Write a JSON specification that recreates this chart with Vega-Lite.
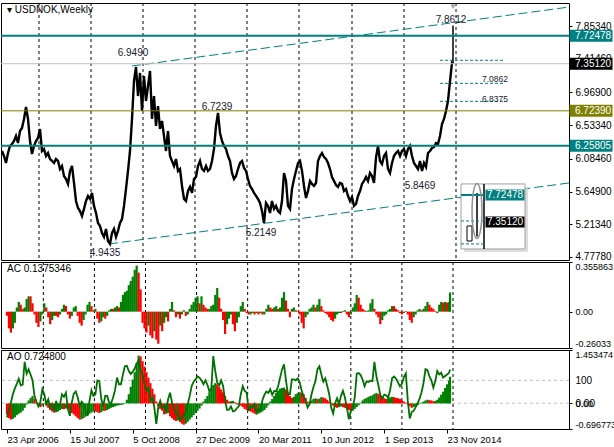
{
"$schema": "https://vega.github.io/schema/vega-lite/v6.json",
"background": "#ffffff",
"padding": {"left": -4, "top": 2, "right": 0, "bottom": 0},
"spacing": 2,
"bounds": "flush",
"resolve": {"scale": {"color": "independent"}, "legend": {"color": "independent"}},
"config": {
  "view": {"stroke": "#000000", "strokeWidth": 1},
  "font": "Liberation Sans",
  "axis": {"labelFont": "Liberation Sans", "labelFontSize": 10, "labelColor": "#000000", "tickColor": "#000000", "tickSize": 3, "labelPadding": 3, "domain": false, "grid": false, "labelOverlap": false, "labelBound": false},
  "title": {"anchor": "start", "frame": "group", "fontSize": 10, "fontWeight": "normal", "font": "Liberation Sans", "color": "#000000", "baseline": "alphabetic", "offset": -12, "dx": 6}
},
"datasets": {
  "yr": [{"t":"2007-01-07"},{"t":"2008-01-06"},{"t":"2009-01-04"},{"t":"2010-01-03"},{"t":"2011-01-02"},{"t":"2012-01-01"},{"t":"2013-01-06"},{"t":"2014-01-05"},{"t":"2015-01-04"}],
  "wk": [
{"t":"2006-04-23","p":6.189,"ac":-0.03,"acd":"d","ao":-0.30,"aod":"d","osc":-62},
{"t":"2006-05-07","p":6.122,"ac":-0.12,"acd":"d","ao":-0.40,"aod":"d","osc":-26},
{"t":"2006-05-21","p":6.029,"ac":-0.15,"acd":"d","ao":-0.44,"aod":"d","osc":3},
{"t":"2006-06-04","p":6.162,"ac":-0.12,"acd":"u","ao":-0.42,"aod":"u","osc":39},
{"t":"2006-06-18","p":6.256,"ac":-0.08,"acd":"u","ao":-0.38,"aod":"u","osc":65},
{"t":"2006-07-02","p":6.282,"ac":0.03,"acd":"u","ao":-0.32,"aod":"u","osc":85},
{"t":"2006-07-16","p":6.322,"ac":0.07,"acd":"u","ao":-0.28,"aod":"u","osc":107},
{"t":"2006-07-30","p":6.389,"ac":0.05,"acd":"d","ao":-0.25,"aod":"u","osc":78},
{"t":"2006-08-13","p":6.295,"ac":0.02,"acd":"d","ao":-0.20,"aod":"u","osc":81},
{"t":"2006-08-27","p":6.455,"ac":0.03,"acd":"u","ao":-0.12,"aod":"u","osc":181},
{"t":"2006-09-10","p":6.495,"ac":0.09,"acd":"u","ao":-0.03,"aod":"u","osc":129},
{"t":"2006-09-24","p":6.615,"ac":0.11,"acd":"u","ao":0.08,"aod":"u","osc":148},
{"t":"2006-10-08","p":6.775,"ac":0.11,"acd":"d","ao":0.15,"aod":"u","osc":126},
{"t":"2006-10-22","p":6.615,"ac":0.06,"acd":"d","ao":0.20,"aod":"u","osc":100},
{"t":"2006-11-05","p":6.322,"ac":-0.02,"acd":"d","ao":0.12,"aod":"d","osc":32},
{"t":"2006-11-19","p":6.149,"ac":-0.08,"acd":"d","ao":0.02,"aod":"d","osc":6},
{"t":"2006-12-03","p":6.256,"ac":-0.11,"acd":"d","ao":-0.06,"aod":"d","osc":-14},
{"t":"2006-12-17","p":6.322,"ac":-0.07,"acd":"u","ao":-0.10,"aod":"d","osc":6},
{"t":"2006-12-31","p":6.362,"ac":-0.02,"acd":"u","ao":-0.06,"aod":"u","osc":61},
{"t":"2007-01-14","p":6.482,"ac":0.06,"acd":"u","ao":-0.02,"aod":"u","osc":39},
{"t":"2007-01-28","p":6.189,"ac":0.03,"acd":"d","ao":-0.05,"aod":"d","osc":-4},
{"t":"2007-02-11","p":6.216,"ac":-0.04,"acd":"d","ao":-0.12,"aod":"d","osc":17},
{"t":"2007-02-25","p":6.122,"ac":-0.09,"acd":"d","ao":-0.18,"aod":"d","osc":-19},
{"t":"2007-03-11","p":6.162,"ac":-0.06,"acd":"u","ao":-0.22,"aod":"d","osc":-4},
{"t":"2007-03-25","p":6.082,"ac":-0.03,"acd":"u","ao":-0.25,"aod":"d","osc":-33},
{"t":"2007-04-08","p":6.056,"ac":-0.03,"acd":"d","ao":-0.24,"aod":"u","osc":10},
{"t":"2007-04-22","p":6.029,"ac":-0.04,"acd":"d","ao":-0.22,"aod":"u","osc":-19},
{"t":"2007-05-06","p":6.082,"ac":-0.02,"acd":"u","ao":-0.18,"aod":"u","osc":-4},
{"t":"2007-05-20","p":6.056,"ac":0.02,"acd":"u","ao":-0.15,"aod":"u","osc":39},
{"t":"2007-06-03","p":5.949,"ac":0.05,"acd":"u","ao":-0.16,"aod":"d","osc":28},
{"t":"2007-06-17","p":5.989,"ac":0.04,"acd":"d","ao":-0.14,"aod":"u","osc":46},
{"t":"2007-07-01","p":5.856,"ac":-0.02,"acd":"d","ao":-0.16,"aod":"d","osc":-26},
{"t":"2007-07-15","p":5.816,"ac":-0.05,"acd":"d","ao":-0.20,"aod":"d","osc":-55},
{"t":"2007-07-29","p":5.750,"ac":-0.03,"acd":"u","ao":-0.26,"aod":"d","osc":3},
{"t":"2007-08-12","p":5.923,"ac":0.03,"acd":"u","ao":-0.30,"aod":"d","osc":42},
{"t":"2007-08-26","p":5.989,"ac":0.04,"acd":"u","ao":-0.35,"aod":"d","osc":51},
{"t":"2007-09-09","p":5.763,"ac":-0.03,"acd":"d","ao":-0.40,"aod":"d","osc":25},
{"t":"2007-09-23","p":5.523,"ac":-0.08,"acd":"d","ao":-0.44,"aod":"d","osc":-12},
{"t":"2007-10-07","p":5.430,"ac":-0.10,"acd":"d","ao":-0.43,"aod":"u","osc":7},
{"t":"2007-10-21","p":5.390,"ac":-0.06,"acd":"u","ao":-0.40,"aod":"u","osc":-4},
{"t":"2007-11-04","p":5.323,"ac":-0.02,"acd":"u","ao":-0.36,"aod":"u","osc":-33},
{"t":"2007-11-18","p":5.417,"ac":0.05,"acd":"u","ao":-0.32,"aod":"u","osc":-55},
{"t":"2007-12-02","p":5.523,"ac":0.07,"acd":"u","ao":-0.28,"aod":"u","osc":10},
{"t":"2007-12-16","p":5.590,"ac":0.04,"acd":"d","ao":-0.25,"aod":"u","osc":57},
{"t":"2007-12-30","p":5.550,"ac":0.01,"acd":"d","ao":-0.22,"aod":"u","osc":32},
{"t":"2008-01-13","p":5.630,"ac":0.02,"acd":"u","ao":-0.22,"aod":"d","osc":39},
{"t":"2008-01-27","p":5.457,"ac":-0.05,"acd":"d","ao":-0.24,"aod":"d","osc":100},
{"t":"2008-02-10","p":5.363,"ac":-0.08,"acd":"d","ao":-0.26,"aod":"d","osc":97},
{"t":"2008-02-24","p":5.230,"ac":-0.07,"acd":"u","ao":-0.24,"aod":"u","osc":17},
{"t":"2008-03-09","p":5.190,"ac":-0.04,"acd":"u","ao":-0.20,"aod":"u","osc":-12},
{"t":"2008-03-23","p":5.097,"ac":-0.05,"acd":"d","ao":-0.20,"aod":"d","osc":32},
{"t":"2008-04-06","p":5.044,"ac":-0.03,"acd":"u","ao":-0.18,"aod":"u","osc":32},
{"t":"2008-04-20","p":5.150,"ac":0.01,"acd":"u","ao":-0.15,"aod":"u","osc":3},
{"t":"2008-05-04","p":4.991,"ac":0.02,"acd":"u","ao":-0.12,"aod":"u","osc":0},
{"t":"2008-05-18","p":4.951,"ac":0.02,"acd":"d","ao":-0.10,"aod":"u","osc":25},
{"t":"2008-06-01","p":5.097,"ac":0.03,"acd":"u","ao":-0.08,"aod":"u","osc":57},
{"t":"2008-06-15","p":5.150,"ac":0.04,"acd":"u","ao":-0.06,"aod":"u","osc":112},
{"t":"2008-06-29","p":5.044,"ac":0.03,"acd":"d","ao":-0.05,"aod":"u","osc":83},
{"t":"2008-07-13","p":5.124,"ac":0.07,"acd":"u","ao":-0.04,"aod":"u","osc":83},
{"t":"2008-07-27","p":5.230,"ac":0.12,"acd":"u","ao":-0.03,"aod":"u","osc":125},
{"t":"2008-08-10","p":5.283,"ac":0.14,"acd":"u","ao":-0.01,"aod":"u","osc":162},
{"t":"2008-08-24","p":5.457,"ac":0.15,"acd":"u","ao":0.10,"aod":"u","osc":164},
{"t":"2008-09-07","p":5.683,"ac":0.19,"acd":"u","ao":0.25,"aod":"u","osc":141},
{"t":"2008-09-21","p":5.923,"ac":0.22,"acd":"u","ao":0.45,"aod":"u","osc":128},
{"t":"2008-10-05","p":6.189,"ac":0.25,"acd":"u","ao":0.65,"aod":"u","osc":138},
{"t":"2008-10-19","p":6.615,"ac":0.30,"acd":"u","ao":0.85,"aod":"u","osc":152},
{"t":"2008-11-02","p":7.121,"ac":0.33,"acd":"u","ao":1.10,"aod":"u","osc":172},
{"t":"2008-11-16","p":7.307,"ac":0.28,"acd":"d","ao":1.30,"aod":"u","osc":188},
{"t":"2008-11-30","p":6.921,"ac":0.16,"acd":"d","ao":1.28,"aod":"d","osc":141},
{"t":"2008-12-14","p":7.228,"ac":-0.08,"acd":"d","ao":1.15,"aod":"d","osc":126},
{"t":"2008-12-28","p":6.722,"ac":-0.12,"acd":"d","ao":1.00,"aod":"d","osc":83},
{"t":"2009-01-11","p":7.188,"ac":-0.15,"acd":"d","ao":0.85,"aod":"d","osc":54},
{"t":"2009-01-25","p":6.855,"ac":-0.10,"acd":"u","ao":0.70,"aod":"d","osc":68},
{"t":"2009-02-08","p":7.054,"ac":-0.17,"acd":"d","ao":0.55,"aod":"d","osc":10},
{"t":"2009-02-22","p":7.254,"ac":-0.19,"acd":"d","ao":0.40,"aod":"d","osc":25},
{"t":"2009-03-08","p":6.615,"ac":-0.14,"acd":"u","ao":0.25,"aod":"d","osc":-19},
{"t":"2009-03-22","p":6.921,"ac":-0.20,"acd":"d","ao":0.05,"aod":"d","osc":-91},
{"t":"2009-04-05","p":6.522,"ac":-0.23,"acd":"d","ao":-0.08,"aod":"d","osc":-19},
{"t":"2009-04-19","p":6.788,"ac":-0.10,"acd":"u","ao":-0.15,"aod":"d","osc":10},
{"t":"2009-05-03","p":6.482,"ac":-0.14,"acd":"d","ao":-0.20,"aod":"d","osc":-19},
{"t":"2009-05-17","p":6.588,"ac":-0.08,"acd":"u","ao":-0.30,"aod":"d","osc":-14},
{"t":"2009-05-31","p":6.389,"ac":-0.04,"acd":"u","ao":-0.28,"aod":"u","osc":-33},
{"t":"2009-06-14","p":6.189,"ac":-0.07,"acd":"d","ao":-0.26,"aod":"u","osc":17},
{"t":"2009-06-28","p":6.455,"ac":0.02,"acd":"u","ao":-0.35,"aod":"d","osc":46},
{"t":"2009-07-12","p":6.122,"ac":0.07,"acd":"u","ao":-0.40,"aod":"d","osc":3},
{"t":"2009-07-26","p":6.056,"ac":0.01,"acd":"d","ao":-0.45,"aod":"d","osc":-23},
{"t":"2009-08-09","p":5.989,"ac":-0.04,"acd":"d","ao":-0.48,"aod":"d","osc":-46},
{"t":"2009-08-23","p":6.082,"ac":-0.02,"acd":"u","ao":-0.46,"aod":"u","osc":-48},
{"t":"2009-09-06","p":5.923,"ac":-0.05,"acd":"d","ao":-0.50,"aod":"d","osc":-75},
{"t":"2009-09-20","p":5.949,"ac":-0.02,"acd":"u","ao":-0.55,"aod":"d","osc":-64},
{"t":"2009-10-04","p":5.723,"ac":0.01,"acd":"u","ao":-0.58,"aod":"d","osc":-52},
{"t":"2009-10-18","p":5.550,"ac":-0.03,"acd":"d","ao":-0.55,"aod":"u","osc":-36},
{"t":"2009-11-01","p":5.523,"ac":-0.02,"acd":"u","ao":-0.50,"aod":"u","osc":-4},
{"t":"2009-11-15","p":5.656,"ac":0.02,"acd":"u","ao":-0.44,"aod":"u","osc":32},
{"t":"2009-11-29","p":5.710,"ac":0.05,"acd":"u","ao":-0.38,"aod":"u","osc":75},
{"t":"2009-12-13","p":5.630,"ac":0.07,"acd":"u","ao":-0.32,"aod":"u","osc":94},
{"t":"2009-12-27","p":5.816,"ac":0.10,"acd":"u","ao":-0.26,"aod":"u","osc":104},
{"t":"2010-01-10","p":5.843,"ac":0.11,"acd":"u","ao":-0.20,"aod":"u","osc":117},
{"t":"2010-01-24","p":5.989,"ac":0.06,"acd":"d","ao":-0.14,"aod":"u","osc":112},
{"t":"2010-02-07","p":6.056,"ac":0.11,"acd":"u","ao":-0.06,"aod":"u","osc":100},
{"t":"2010-02-21","p":5.949,"ac":0.05,"acd":"d","ao":0.05,"aod":"u","osc":83},
{"t":"2010-03-07","p":5.923,"ac":0.03,"acd":"d","ao":0.12,"aod":"u","osc":100},
{"t":"2010-03-21","p":5.989,"ac":0.02,"acd":"d","ao":0.20,"aod":"u","osc":81},
{"t":"2010-04-04","p":5.923,"ac":0.02,"acd":"u","ao":0.30,"aod":"u","osc":52},
{"t":"2010-04-18","p":5.949,"ac":0.04,"acd":"u","ao":0.40,"aod":"u","osc":64},
{"t":"2010-05-02","p":6.056,"ac":0.05,"acd":"u","ao":0.50,"aod":"u","osc":206},
{"t":"2010-05-16","p":6.216,"ac":0.12,"acd":"u","ao":0.55,"aod":"u","osc":141},
{"t":"2010-05-30","p":6.522,"ac":0.17,"acd":"u","ao":0.52,"aod":"d","osc":90},
{"t":"2010-06-13","p":6.695,"ac":0.10,"acd":"d","ao":0.45,"aod":"d","osc":78},
{"t":"2010-06-27","p":6.429,"ac":0.02,"acd":"d","ao":0.38,"aod":"d","osc":100},
{"t":"2010-07-11","p":6.322,"ac":-0.06,"acd":"d","ao":0.30,"aod":"d","osc":75},
{"t":"2010-07-25","p":6.256,"ac":-0.16,"acd":"d","ao":0.20,"aod":"d","osc":10},
{"t":"2010-08-08","p":6.216,"ac":-0.09,"acd":"u","ao":0.10,"aod":"d","osc":-29},
{"t":"2010-08-22","p":6.122,"ac":-0.05,"acd":"u","ao":0.05,"aod":"d","osc":-28},
{"t":"2010-09-05","p":6.056,"ac":-0.02,"acd":"u","ao":0.06,"aod":"u","osc":-14},
{"t":"2010-09-19","p":5.896,"ac":-0.09,"acd":"d","ao":0.07,"aod":"u","osc":-36},
{"t":"2010-10-03","p":5.816,"ac":-0.14,"acd":"d","ao":0.03,"aod":"d","osc":-33},
{"t":"2010-10-17","p":5.856,"ac":-0.08,"acd":"u","ao":-0.03,"aod":"d","osc":-22},
{"t":"2010-10-31","p":5.949,"ac":-0.04,"acd":"u","ao":-0.02,"aod":"u","osc":-13},
{"t":"2010-11-14","p":6.029,"ac":0.04,"acd":"u","ao":-0.06,"aod":"d","osc":39},
{"t":"2010-11-28","p":6.056,"ac":0.07,"acd":"u","ao":-0.10,"aod":"d","osc":75},
{"t":"2010-12-12","p":5.963,"ac":0.02,"acd":"d","ao":-0.15,"aod":"d","osc":54},
{"t":"2010-12-26","p":5.923,"ac":-0.01,"acd":"d","ao":-0.18,"aod":"d","osc":46},
{"t":"2011-01-09","p":5.816,"ac":-0.02,"acd":"d","ao":-0.20,"aod":"d","osc":-33},
{"t":"2011-01-23","p":5.723,"ac":-0.02,"acd":"u","ao":-0.22,"aod":"d","osc":-12},
{"t":"2011-02-06","p":5.683,"ac":-0.01,"acd":"u","ao":-0.25,"aod":"d","osc":-19},
{"t":"2011-02-20","p":5.630,"ac":-0.02,"acd":"d","ao":-0.28,"aod":"d","osc":-4},
{"t":"2011-03-06","p":5.590,"ac":-0.01,"acd":"u","ao":-0.30,"aod":"d","osc":-41},
{"t":"2011-03-20","p":5.550,"ac":-0.02,"acd":"d","ao":-0.28,"aod":"u","osc":-26},
{"t":"2011-04-03","p":5.497,"ac":-0.01,"acd":"u","ao":-0.25,"aod":"u","osc":-33},
{"t":"2011-04-17","p":5.390,"ac":-0.02,"acd":"d","ao":-0.22,"aod":"u","osc":13},
{"t":"2011-05-01","p":5.230,"ac":-0.02,"acd":"u","ao":-0.18,"aod":"u","osc":36},
{"t":"2011-05-15","p":5.497,"ac":0.02,"acd":"u","ao":-0.12,"aod":"u","osc":51},
{"t":"2011-05-29","p":5.457,"ac":0.05,"acd":"u","ao":-0.05,"aod":"u","osc":45},
{"t":"2011-06-12","p":5.363,"ac":0.03,"acd":"d","ao":0.05,"aod":"u","osc":61},
{"t":"2011-06-26","p":5.523,"ac":0.02,"acd":"d","ao":0.12,"aod":"u","osc":36},
{"t":"2011-07-10","p":5.417,"ac":0.03,"acd":"u","ao":0.20,"aod":"u","osc":54},
{"t":"2011-07-24","p":5.457,"ac":0.04,"acd":"u","ao":0.28,"aod":"u","osc":51},
{"t":"2011-08-07","p":5.390,"ac":0.02,"acd":"d","ao":0.35,"aod":"u","osc":74},
{"t":"2011-08-21","p":5.363,"ac":0.03,"acd":"u","ao":0.40,"aod":"u","osc":112},
{"t":"2011-09-04","p":5.523,"ac":0.10,"acd":"u","ao":0.42,"aod":"u","osc":148},
{"t":"2011-09-18","p":5.896,"ac":0.14,"acd":"u","ao":0.43,"aod":"u","osc":170},
{"t":"2011-10-02","p":5.789,"ac":0.08,"acd":"d","ao":0.38,"aod":"d","osc":100},
{"t":"2011-10-16","p":5.457,"ac":0.02,"acd":"d","ao":0.30,"aod":"d","osc":39},
{"t":"2011-10-30","p":5.417,"ac":-0.04,"acd":"d","ao":0.20,"aod":"d","osc":39},
{"t":"2011-11-13","p":5.683,"ac":0.02,"acd":"u","ao":0.15,"aod":"d","osc":104},
{"t":"2011-11-27","p":5.816,"ac":0.03,"acd":"u","ao":0.18,"aod":"u","osc":104},
{"t":"2011-12-11","p":5.923,"ac":0.01,"acd":"d","ao":0.25,"aod":"u","osc":100},
{"t":"2011-12-25","p":6.029,"ac":0.005,"acd":"d","ao":0.28,"aod":"u","osc":109},
{"t":"2012-01-08","p":6.056,"ac":-0.02,"acd":"d","ao":0.30,"aod":"u","osc":90},
{"t":"2012-01-22","p":5.923,"ac":-0.08,"acd":"d","ao":0.29,"aod":"d","osc":54},
{"t":"2012-02-05","p":5.723,"ac":-0.12,"acd":"d","ao":0.25,"aod":"d","osc":28},
{"t":"2012-02-19","p":5.563,"ac":-0.04,"acd":"u","ao":0.15,"aod":"d","osc":10},
{"t":"2012-03-04","p":5.656,"ac":-0.02,"acd":"u","ao":0.05,"aod":"d","osc":-19},
{"t":"2012-03-18","p":5.789,"ac":0.02,"acd":"u","ao":0.02,"aod":"d","osc":-4},
{"t":"2012-04-01","p":5.750,"ac":0.03,"acd":"u","ao":0.08,"aod":"u","osc":39},
{"t":"2012-04-15","p":5.723,"ac":0.05,"acd":"u","ao":0.12,"aod":"u","osc":71},
{"t":"2012-04-29","p":5.763,"ac":0.03,"acd":"d","ao":0.14,"aod":"u","osc":97},
{"t":"2012-05-13","p":6.056,"ac":0.05,"acd":"u","ao":0.12,"aod":"d","osc":148},
{"t":"2012-05-27","p":6.122,"ac":0.09,"acd":"u","ao":0.13,"aod":"u","osc":162},
{"t":"2012-06-10","p":6.162,"ac":0.04,"acd":"d","ao":0.17,"aod":"u","osc":126},
{"t":"2012-06-24","p":6.109,"ac":0.01,"acd":"d","ao":0.16,"aod":"d","osc":94},
{"t":"2012-07-08","p":6.082,"ac":-0.01,"acd":"d","ao":0.14,"aod":"d","osc":109},
{"t":"2012-07-22","p":6.029,"ac":-0.02,"acd":"d","ao":0.10,"aod":"d","osc":75},
{"t":"2012-08-05","p":5.949,"ac":-0.04,"acd":"d","ao":0.05,"aod":"d","osc":39},
{"t":"2012-08-19","p":5.843,"ac":-0.06,"acd":"d","ao":-0.02,"aod":"d","osc":-19},
{"t":"2012-09-02","p":5.789,"ac":-0.07,"acd":"d","ao":-0.06,"aod":"d","osc":-45},
{"t":"2012-09-16","p":5.736,"ac":-0.05,"acd":"u","ao":-0.10,"aod":"d","osc":-1},
{"t":"2012-09-30","p":5.710,"ac":-0.02,"acd":"u","ao":-0.12,"aod":"d","osc":22},
{"t":"2012-10-14","p":5.763,"ac":-0.01,"acd":"u","ao":-0.10,"aod":"u","osc":-4},
{"t":"2012-10-28","p":5.750,"ac":-0.01,"acd":"d","ao":-0.08,"aod":"u","osc":32},
{"t":"2012-11-11","p":5.656,"ac":0.005,"acd":"u","ao":-0.10,"aod":"d","osc":54},
{"t":"2012-11-25","p":5.683,"ac":0.01,"acd":"u","ao":-0.12,"aod":"d","osc":25},
{"t":"2012-12-09","p":5.590,"ac":-0.02,"acd":"d","ao":-0.15,"aod":"d","osc":-19},
{"t":"2012-12-23","p":5.523,"ac":-0.04,"acd":"d","ao":-0.18,"aod":"d","osc":-70},
{"t":"2013-01-06","p":5.576,"ac":-0.02,"acd":"u","ao":-0.21,"aod":"d","osc":-33},
{"t":"2013-01-20","p":5.457,"ac":0.03,"acd":"u","ao":-0.20,"aod":"u","osc":-19},
{"t":"2013-02-03","p":5.483,"ac":0.06,"acd":"u","ao":-0.15,"aod":"u","osc":25},
{"t":"2013-02-17","p":5.590,"ac":0.12,"acd":"u","ao":-0.10,"aod":"u","osc":129},
{"t":"2013-03-03","p":5.656,"ac":0.10,"acd":"d","ao":-0.05,"aod":"u","osc":132},
{"t":"2013-03-17","p":5.750,"ac":0.05,"acd":"d","ao":0.02,"aod":"u","osc":123},
{"t":"2013-03-31","p":5.789,"ac":0.02,"acd":"d","ao":0.08,"aod":"u","osc":103},
{"t":"2013-04-14","p":5.843,"ac":0.01,"acd":"d","ao":0.12,"aod":"u","osc":74},
{"t":"2013-04-28","p":5.789,"ac":0.005,"acd":"u","ao":0.15,"aod":"u","osc":96},
{"t":"2013-05-12","p":5.896,"ac":0.01,"acd":"u","ao":0.18,"aod":"u","osc":93},
{"t":"2013-05-26","p":5.856,"ac":0.06,"acd":"u","ao":0.20,"aod":"u","osc":99},
{"t":"2013-06-09","p":5.763,"ac":0.09,"acd":"u","ao":0.22,"aod":"u","osc":97},
{"t":"2013-06-23","p":6.100,"ac":0.02,"acd":"d","ao":0.26,"aod":"u","osc":181},
{"t":"2013-07-07","p":6.256,"ac":-0.02,"acd":"d","ao":0.28,"aod":"u","osc":119},
{"t":"2013-07-21","p":6.056,"ac":-0.04,"acd":"d","ao":0.26,"aod":"d","osc":80},
{"t":"2013-08-04","p":6.016,"ac":-0.09,"acd":"d","ao":0.22,"aod":"d","osc":36},
{"t":"2013-08-18","p":6.122,"ac":-0.06,"acd":"u","ao":0.18,"aod":"d","osc":19},
{"t":"2013-09-01","p":6.162,"ac":-0.03,"acd":"u","ao":0.14,"aod":"d","osc":38},
{"t":"2013-09-15","p":5.949,"ac":-0.02,"acd":"u","ao":0.12,"aod":"d","osc":35},
{"t":"2013-09-29","p":5.896,"ac":0.01,"acd":"u","ao":0.14,"aod":"u","osc":23},
{"t":"2013-10-13","p":6.029,"ac":0.02,"acd":"u","ao":0.16,"aod":"u","osc":58},
{"t":"2013-10-27","p":6.122,"ac":0.04,"acd":"u","ao":0.18,"aod":"u","osc":109},
{"t":"2013-11-10","p":6.162,"ac":0.04,"acd":"d","ao":0.17,"aod":"d","osc":117},
{"t":"2013-11-24","p":6.189,"ac":0.02,"acd":"d","ao":0.15,"aod":"d","osc":107},
{"t":"2013-12-08","p":6.122,"ac":0.01,"acd":"d","ao":0.14,"aod":"d","osc":91},
{"t":"2013-12-22","p":6.189,"ac":-0.01,"acd":"d","ao":0.12,"aod":"d","osc":74},
{"t":"2014-01-05","p":6.216,"ac":-0.02,"acd":"d","ao":0.08,"aod":"d","osc":85},
{"t":"2014-01-19","p":6.122,"ac":-0.01,"acd":"u","ao":0.05,"aod":"d","osc":114},
{"t":"2014-02-02","p":6.216,"ac":0.005,"acd":"u","ao":0.02,"aod":"d","osc":130},
{"t":"2014-02-16","p":6.256,"ac":-0.02,"acd":"d","ao":-0.03,"aod":"d","osc":10},
{"t":"2014-03-02","p":6.122,"ac":-0.06,"acd":"d","ao":-0.08,"aod":"d","osc":-67},
{"t":"2014-03-16","p":6.029,"ac":-0.08,"acd":"d","ao":-0.12,"aod":"d","osc":-39},
{"t":"2014-03-30","p":5.989,"ac":-0.04,"acd":"u","ao":-0.10,"aod":"u","osc":-33},
{"t":"2014-04-13","p":5.949,"ac":-0.02,"acd":"u","ao":-0.08,"aod":"u","osc":-17},
{"t":"2014-04-27","p":6.056,"ac":0.01,"acd":"u","ao":-0.05,"aod":"u","osc":0},
{"t":"2014-05-11","p":5.923,"ac":0.02,"acd":"u","ao":-0.02,"aod":"u","osc":20},
{"t":"2014-05-25","p":6.029,"ac":0.01,"acd":"d","ao":0.02,"aod":"u","osc":48},
{"t":"2014-06-08","p":5.976,"ac":0.02,"acd":"u","ao":0.05,"aod":"u","osc":88},
{"t":"2014-06-22","p":6.162,"ac":0.04,"acd":"u","ao":0.08,"aod":"u","osc":149},
{"t":"2014-07-06","p":6.189,"ac":0.07,"acd":"u","ao":0.10,"aod":"u","osc":145},
{"t":"2014-07-20","p":6.229,"ac":0.05,"acd":"d","ao":0.09,"aod":"d","osc":117},
{"t":"2014-08-03","p":6.242,"ac":0.03,"acd":"d","ao":0.08,"aod":"d","osc":100},
{"t":"2014-08-17","p":6.295,"ac":0.02,"acd":"d","ao":0.06,"aod":"d","osc":68},
{"t":"2014-08-31","p":6.282,"ac":0.005,"acd":"d","ao":0.07,"aod":"u","osc":97},
{"t":"2014-09-14","p":6.389,"ac":-0.01,"acd":"d","ao":0.10,"aod":"u","osc":141},
{"t":"2014-09-28","p":6.548,"ac":0.05,"acd":"u","ao":0.16,"aod":"u","osc":126},
{"t":"2014-10-12","p":6.615,"ac":0.07,"acd":"u","ao":0.24,"aod":"u","osc":133},
{"t":"2014-10-26","p":6.722,"ac":0.065,"acd":"d","ao":0.32,"aod":"u","osc":112},
{"t":"2014-11-09","p":6.855,"ac":0.07,"acd":"u","ao":0.42,"aod":"u","osc":119},
{"t":"2014-11-23","p":7.121,"ac":0.065,"acd":"d","ao":0.52,"aod":"u","osc":126},
{"t":"2014-12-07","p":7.361,"ac":0.07,"acd":"u","ao":0.62,"aod":"u","osc":133},
{"t":"2014-12-14","p":7.3512,"ac":0.1375,"acd":"u","ao":0.7248,"aod":"u","osc":148}
  ]
},
"vconcat": [
{
  "width": 568, "height": 257,
  "title": "▾ USDNOK,Weekly",
  "layer": [
    {"data": {"name": "yr"}, "mark": {"type": "rule", "color": "#000000", "strokeDash": [3, 3], "strokeWidth": 1},
     "encoding": {"x": {"field": "t", "type": "temporal", "scale": {"type": "utc", "domain": [{"year": 2006, "month": 4, "date": 16, "utc": true}, {"year": 2017, "month": 3, "date": 5, "utc": true}]}, "axis": null}}},
    {"data": {"values": [{"t": "2008-10-19", "p": 7.321, "id": "a"}, {"t": "2017-03-05", "p": 8.106, "id": "a"}, {"t": "2008-05-11", "p": 4.951, "id": "b"}, {"t": "2017-03-05", "p": 5.763, "id": "b"}]},
     "mark": {"type": "line", "color": "#008080", "strokeDash": [9, 4], "strokeWidth": 1},
     "encoding": {"x": {"field": "t", "type": "temporal", "scale": {"type": "utc", "domain": [{"year": 2006, "month": 4, "date": 16, "utc": true}, {"year": 2017, "month": 3, "date": 5, "utc": true}]}, "axis": null},
                  "y": {"field": "p", "type": "quantitative", "scale": {"domain": [4.737, 8.16], "zero": false, "nice": false}, "axis": {"orient": "right", "values": [4.7778, 5.2134, 5.649, 6.0846, 6.5334, 6.969, 7.4146, 7.8534], "format": ".5f", "title": null}},
                  "detail": {"field": "id", "type": "nominal"}}},
    {"data": {"values": [{"t": "2014-09-14", "t2": "2015-11-29", "p": 7.397}, {"t": "2014-09-14", "t2": "2015-11-29", "p": 7.09}, {"t": "2014-09-14", "t2": "2015-11-29", "p": 6.85}]},
     "mark": {"type": "rule", "color": "#008080", "strokeDash": [3, 2], "strokeWidth": 1},
     "encoding": {"x": {"field": "t", "type": "temporal", "scale": {"type": "utc", "domain": [{"year": 2006, "month": 4, "date": 16, "utc": true}, {"year": 2017, "month": 3, "date": 5, "utc": true}]}, "axis": null},
                  "x2": {"field": "t2"},
                  "y": {"field": "p", "type": "quantitative", "scale": {"domain": [4.737, 8.16], "zero": false, "nice": false}, "axis": {"orient": "right", "values": [4.7778, 5.2134, 5.649, 6.0846, 6.5334, 6.969, 7.4146, 7.8534], "format": ".5f", "title": null}}}},
    {"data": {"name": "wk"}, "mark": {"type": "line", "color": "#000000", "strokeWidth": 2.4},
     "encoding": {"x": {"field": "t", "type": "temporal", "scale": {"type": "utc", "domain": [{"year": 2006, "month": 4, "date": 16, "utc": true}, {"year": 2017, "month": 3, "date": 5, "utc": true}]}, "axis": null},
                  "y": {"field": "p", "type": "quantitative", "scale": {"domain": [4.737, 8.16], "zero": false, "nice": false}, "axis": {"orient": "right", "values": [4.7778, 5.2134, 5.649, 6.0846, 6.5334, 6.969, 7.4146, 7.8534], "format": ".5f", "title": null}}}},
    {"data": {"values": [{"t": "2014-12-14", "p": 7.3512, "p2": 7.8612}]}, "mark": {"type": "rule", "color": "#000000", "strokeWidth": 1.5},
     "encoding": {"x": {"field": "t", "type": "temporal", "scale": {"type": "utc", "domain": [{"year": 2006, "month": 4, "date": 16, "utc": true}, {"year": 2017, "month": 3, "date": 5, "utc": true}]}, "axis": null},
                  "y": {"field": "p", "type": "quantitative", "scale": {"domain": [4.737, 8.16], "zero": false, "nice": false}, "axis": {"orient": "right", "values": [4.7778, 5.2134, 5.649, 6.0846, 6.5334, 6.969, 7.4146, 7.8534], "format": ".5f", "title": null}}, "y2": {"field": "p2"}}},
    {"data": {"values": [{"p": 7.72478}, {"p": 6.25805}]}, "mark": {"type": "rule", "color": "#008080", "strokeWidth": 2},
     "encoding": {"y": {"field": "p", "type": "quantitative", "scale": {"domain": [4.737, 8.16], "zero": false, "nice": false}, "axis": {"orient": "right", "values": [4.7778, 5.2134, 5.649, 6.0846, 6.5334, 6.969, 7.4146, 7.8534], "format": ".5f", "title": null}}}},
    {"data": {"values": [{"p": 6.7239}]}, "mark": {"type": "rule", "color": "#808000", "strokeWidth": 1},
     "encoding": {"y": {"field": "p", "type": "quantitative", "scale": {"domain": [4.737, 8.16], "zero": false, "nice": false}, "axis": {"orient": "right", "values": [4.7778, 5.2134, 5.649, 6.0846, 6.5334, 6.969, 7.4146, 7.8534], "format": ".5f", "title": null}}}},
    {"data": {"values": [{"p": 7.3512}]}, "mark": {"type": "rule", "color": "#c0c0c0", "strokeWidth": 1},
     "encoding": {"y": {"field": "p", "type": "quantitative", "scale": {"domain": [4.737, 8.16], "zero": false, "nice": false}, "axis": {"orient": "right", "values": [4.7778, 5.2134, 5.649, 6.0846, 6.5334, 6.969, 7.4146, 7.8534], "format": ".5f", "title": null}}}},
    {"data": {"values": [{"t": "2008-10-26", "p": 7.494, "label": "6.9490"}, {"t": "2010-06-06", "p": 6.775, "label": "6.7239"}, {"t": "2008-04-13", "p": 4.831, "label": "4.9435"}, {"t": "2011-04-10", "p": 5.097, "label": "5.2149"}, {"t": "2014-04-27", "p": 5.723, "label": "5.8469"}, {"t": "2014-11-30", "p": 7.933, "label": "7.8612"}]},
     "mark": {"type": "text", "fontSize": 10, "color": "#1a1a2e", "baseline": "middle", "align": "center", "font": "Liberation Sans"},
     "encoding": {"x": {"field": "t", "type": "temporal", "scale": {"type": "utc", "domain": [{"year": 2006, "month": 4, "date": 16, "utc": true}, {"year": 2017, "month": 3, "date": 5, "utc": true}]}, "axis": null},
                  "y": {"field": "p", "type": "quantitative", "scale": {"domain": [4.737, 8.16], "zero": false, "nice": false}, "axis": {"orient": "right", "values": [4.7778, 5.2134, 5.649, 6.0846, 6.5334, 6.969, 7.4146, 7.8534], "format": ".5f", "title": null}},
                  "text": {"field": "label", "type": "nominal"}}},
    {"data": {"values": [{"t": "2015-10-04", "p": 7.148, "label": "7.0862"}, {"t": "2015-10-04", "p": 6.881, "label": "6.8375"}]},
     "mark": {"type": "text", "fontSize": 8.5, "color": "#1a1a2e", "baseline": "middle", "align": "center", "font": "Liberation Sans"},
     "encoding": {"x": {"field": "t", "type": "temporal", "scale": {"type": "utc", "domain": [{"year": 2006, "month": 4, "date": 16, "utc": true}, {"year": 2017, "month": 3, "date": 5, "utc": true}]}, "axis": null},
                  "y": {"field": "p", "type": "quantitative", "scale": {"domain": [4.737, 8.16], "zero": false, "nice": false}, "axis": {"orient": "right", "values": [4.7778, 5.2134, 5.649, 6.0846, 6.5334, 6.969, 7.4146, 7.8534], "format": ".5f", "title": null}},
                  "text": {"field": "label", "type": "nominal"}}},
    {"data": {"values": [{"t": "2015-03-01", "t2": "2016-05-22", "p": 5.710, "p2": 4.844}]},
     "mark": {"type": "rect", "fill": "#cfcfcf", "opacity": 0.7},
     "encoding": {"x": {"field": "t", "type": "temporal", "scale": {"type": "utc", "domain": [{"year": 2006, "month": 4, "date": 16, "utc": true}, {"year": 2017, "month": 3, "date": 5, "utc": true}]}, "axis": null},
                  "x2": {"field": "t2"},
                  "y": {"field": "p", "type": "quantitative", "scale": {"domain": [4.737, 8.16], "zero": false, "nice": false}, "axis": {"orient": "right", "values": [4.7778, 5.2134, 5.649, 6.0846, 6.5334, 6.969, 7.4146, 7.8534], "format": ".5f", "title": null}}, "y2": {"field": "p2"}}},
    {"data": {"values": [{"t": "2015-02-08", "t2": "2016-05-01", "p": 5.750, "p2": 4.884}]},
     "mark": {"type": "rect", "fill": "#ffffff", "stroke": "#a0a0a0", "strokeWidth": 1},
     "encoding": {"x": {"field": "t", "type": "temporal", "scale": {"type": "utc", "domain": [{"year": 2006, "month": 4, "date": 16, "utc": true}, {"year": 2017, "month": 3, "date": 5, "utc": true}]}, "axis": null},
                  "x2": {"field": "t2"},
                  "y": {"field": "p", "type": "quantitative", "scale": {"domain": [4.737, 8.16], "zero": false, "nice": false}, "axis": {"orient": "right", "values": [4.7778, 5.2134, 5.649, 6.0846, 6.5334, 6.969, 7.4146, 7.8534], "format": ".5f", "title": null}}, "y2": {"field": "p2"}}},
    {"data": {"values": [{"t": "2015-07-19", "p": 5.750, "p2": 4.884}, {"t": "2015-05-31", "p": 5.63, "p2": 5.05}]},
     "mark": {"type": "rule", "color": "#000000", "strokeWidth": 1.5},
     "encoding": {"x": {"field": "t", "type": "temporal", "scale": {"type": "utc", "domain": [{"year": 2006, "month": 4, "date": 16, "utc": true}, {"year": 2017, "month": 3, "date": 5, "utc": true}]}, "axis": null},
                  "y": {"field": "p", "type": "quantitative", "scale": {"domain": [4.737, 8.16], "zero": false, "nice": false}, "axis": {"orient": "right", "values": [4.7778, 5.2134, 5.649, 6.0846, 6.5334, 6.969, 7.4146, 7.8534], "format": ".5f", "title": null}}, "y2": {"field": "p2"}}},
    {"data": {"values": [{"t": "2015-02-08", "t2": "2015-07-19", "p": 5.603}]},
     "mark": {"type": "rule", "color": "#008080", "strokeWidth": 2},
     "encoding": {"x": {"field": "t", "type": "temporal", "scale": {"type": "utc", "domain": [{"year": 2006, "month": 4, "date": 16, "utc": true}, {"year": 2017, "month": 3, "date": 5, "utc": true}]}, "axis": null},
                  "x2": {"field": "t2"},
                  "y": {"field": "p", "type": "quantitative", "scale": {"domain": [4.737, 8.16], "zero": false, "nice": false}, "axis": {"orient": "right", "values": [4.7778, 5.2134, 5.649, 6.0846, 6.5334, 6.969, 7.4146, 7.8534], "format": ".5f", "title": null}}}},
    {"data": {"values": [{"t": "2015-02-08", "t2": "2015-07-19", "p": 5.257}, {"t": "2015-02-08", "t2": "2015-07-19", "p": 4.951}]},
     "mark": {"type": "rule", "color": "#008080", "strokeWidth": 1, "strokeDash": [3, 2]},
     "encoding": {"x": {"field": "t", "type": "temporal", "scale": {"type": "utc", "domain": [{"year": 2006, "month": 4, "date": 16, "utc": true}, {"year": 2017, "month": 3, "date": 5, "utc": true}]}, "axis": null},
                  "x2": {"field": "t2"},
                  "y": {"field": "p", "type": "quantitative", "scale": {"domain": [4.737, 8.16], "zero": false, "nice": false}, "axis": {"orient": "right", "values": [4.7778, 5.2134, 5.649, 6.0846, 6.5334, 6.969, 7.4146, 7.8534], "format": ".5f", "title": null}}}},
    {"data": {"values": [{"t": "2015-03-22", "t2": "2015-04-26", "p": 5.190, "p2": 4.990}]},
     "mark": {"type": "rect", "fill": "#ffffff", "stroke": "#000000", "strokeWidth": 1},
     "encoding": {"x": {"field": "t", "type": "temporal", "scale": {"type": "utc", "domain": [{"year": 2006, "month": 4, "date": 16, "utc": true}, {"year": 2017, "month": 3, "date": 5, "utc": true}]}, "axis": null},
                  "x2": {"field": "t2"},
                  "y": {"field": "p", "type": "quantitative", "scale": {"domain": [4.737, 8.16], "zero": false, "nice": false}, "axis": {"orient": "right", "values": [4.7778, 5.2134, 5.649, 6.0846, 6.5334, 6.969, 7.4146, 7.8534], "format": ".5f", "title": null}}, "y2": {"field": "p2"}}},
    {"data": {"values": [{"t": "2015-05-31", "p": 5.390}]},
     "mark": {"type": "point", "shape": "M0,-1C0.1,-1 0.18,-0.55 0.18,0C0.18,0.55 0.1,1 0,1C-0.1,1 -0.18,0.55 -0.18,0C-0.18,-0.55 -0.1,-1 0,-1Z", "size": 3025, "filled": false, "color": "#909090", "strokeWidth": 1.5, "opacity": 1},
     "encoding": {"x": {"field": "t", "type": "temporal", "scale": {"type": "utc", "domain": [{"year": 2006, "month": 4, "date": 16, "utc": true}, {"year": 2017, "month": 3, "date": 5, "utc": true}]}, "axis": null},
                  "y": {"field": "p", "type": "quantitative", "scale": {"domain": [4.737, 8.16], "zero": false, "nice": false}, "axis": {"orient": "right", "values": [4.7778, 5.2134, 5.649, 6.0846, 6.5334, 6.969, 7.4146, 7.8534], "format": ".5f", "title": null}}}},
    {"data": {"values": [{"p": 5.603, "label": "7.72478", "k": "teal"}, {"p": 5.243, "label": "7.35120", "k": "black"}]},
     "layer": [
       {"mark": {"type": "point", "shape": "M-1,-0.28H1V0.28H-1Z", "size": 1521, "filled": true, "opacity": 1, "strokeWidth": 0},
        "encoding": {"x": {"datum": {"year": 2015, "month": 12, "date": 13, "utc": true}, "type": "temporal", "scale": {"type": "utc", "domain": [{"year": 2006, "month": 4, "date": 16, "utc": true}, {"year": 2017, "month": 3, "date": 5, "utc": true}]}, "axis": null},
                     "y": {"field": "p", "type": "quantitative", "scale": {"domain": [4.737, 8.16], "zero": false, "nice": false}, "axis": {"orient": "right", "values": [4.7778, 5.2134, 5.649, 6.0846, 6.5334, 6.969, 7.4146, 7.8534], "format": ".5f", "title": null}},
                     "color": {"field": "k", "type": "nominal", "scale": {"domain": ["teal", "black", "olive"], "range": ["#008080", "#000000", "#808000"]}, "legend": null}}},
       {"mark": {"type": "text", "align": "center", "baseline": "middle", "color": "#ffffff", "fontSize": 10, "font": "Liberation Sans"},
        "encoding": {"x": {"datum": {"year": 2015, "month": 12, "date": 13, "utc": true}, "type": "temporal", "scale": {"type": "utc", "domain": [{"year": 2006, "month": 4, "date": 16, "utc": true}, {"year": 2017, "month": 3, "date": 5, "utc": true}]}, "axis": null},
                     "y": {"field": "p", "type": "quantitative", "scale": {"domain": [4.737, 8.16], "zero": false, "nice": false}, "axis": {"orient": "right", "values": [4.7778, 5.2134, 5.649, 6.0846, 6.5334, 6.969, 7.4146, 7.8534], "format": ".5f", "title": null}},
                     "text": {"field": "label", "type": "nominal"}}}
     ]},
    {"data": {"values": [{"p": 7.72478, "label": "7.72478", "k": "teal"}, {"p": 7.3512, "label": "7.35120", "k": "black"}, {"p": 6.7239, "label": "6.72390", "k": "olive"}, {"p": 6.25805, "label": "6.25805", "k": "teal"}]},
     "layer": [
       {"mark": {"type": "point", "shape": "M-1,-0.28H1V0.28H-1Z", "size": 1849, "filled": true, "opacity": 1, "strokeWidth": 0},
        "encoding": {"x": {"datum": {"year": 2017, "month": 8, "date": 6, "utc": true}, "type": "temporal", "scale": {"type": "utc", "domain": [{"year": 2006, "month": 4, "date": 16, "utc": true}, {"year": 2017, "month": 3, "date": 5, "utc": true}]}, "axis": null},
                     "y": {"field": "p", "type": "quantitative", "scale": {"domain": [4.737, 8.16], "zero": false, "nice": false}, "axis": {"orient": "right", "values": [4.7778, 5.2134, 5.649, 6.0846, 6.5334, 6.969, 7.4146, 7.8534], "format": ".5f", "title": null}},
                     "color": {"field": "k", "type": "nominal", "scale": {"domain": ["teal", "black", "olive"], "range": ["#008080", "#000000", "#808000"]}, "legend": null}}},
       {"mark": {"type": "text", "align": "left", "baseline": "middle", "color": "#ffffff", "fontSize": 10, "font": "Liberation Sans"},
        "encoding": {"x": {"datum": {"year": 2017, "month": 4, "date": 16, "utc": true}, "type": "temporal", "scale": {"type": "utc", "domain": [{"year": 2006, "month": 4, "date": 16, "utc": true}, {"year": 2017, "month": 3, "date": 5, "utc": true}]}, "axis": null},
                     "y": {"field": "p", "type": "quantitative", "scale": {"domain": [4.737, 8.16], "zero": false, "nice": false}, "axis": {"orient": "right", "values": [4.7778, 5.2134, 5.649, 6.0846, 6.5334, 6.969, 7.4146, 7.8534], "format": ".5f", "title": null}},
                     "text": {"field": "label", "type": "nominal"}}}
     ]},
    {"data": {"values": [{"t": "2014-12-14", "p": 8.106, "label": "▼"}]},
     "mark": {"type": "text", "fontSize": 8, "color": "#a0a0a0", "baseline": "middle", "align": "center"},
     "encoding": {"x": {"field": "t", "type": "temporal", "scale": {"type": "utc", "domain": [{"year": 2006, "month": 4, "date": 16, "utc": true}, {"year": 2017, "month": 3, "date": 5, "utc": true}]}, "axis": null},
                  "y": {"field": "p", "type": "quantitative", "scale": {"domain": [4.737, 8.16], "zero": false, "nice": false}, "axis": {"orient": "right", "values": [4.7778, 5.2134, 5.649, 6.0846, 6.5334, 6.969, 7.4146, 7.8534], "format": ".5f", "title": null}},
                  "text": {"field": "label", "type": "nominal"}}}
  ]
},
{
  "width": 568, "height": 86,
  "title": "AC 0.1375346",
  "layer": [
    {"data": {"name": "yr"}, "mark": {"type": "rule", "color": "#000000", "strokeDash": [3, 3], "strokeWidth": 1},
     "encoding": {"x": {"field": "t", "type": "temporal", "scale": {"type": "utc", "domain": [{"year": 2006, "month": 4, "date": 16, "utc": true}, {"year": 2017, "month": 3, "date": 5, "utc": true}]}, "axis": null}}},
    {"data": {"name": "wk"}, "mark": {"type": "bar", "width": 2.2},
     "encoding": {"x": {"field": "t", "type": "temporal", "scale": {"type": "utc", "domain": [{"year": 2006, "month": 4, "date": 16, "utc": true}, {"year": 2017, "month": 3, "date": 5, "utc": true}]}, "axis": null},
                  "y": {"field": "ac", "type": "quantitative", "scale": {"domain": [-0.26033, 0.355863], "nice": false},
                        "axis": {"orient": "right", "values": [-0.26033, 0, 0.355863], "labelExpr": "datum.value == 0 ? '0.00' : (datum.value > 0 ? '0.355863' : '-0.26033')", "labelFlush": true, "labelFontSize": 9, "title": null}},
                  "y2": {"datum": 0},
                  "color": {"field": "acd", "type": "nominal", "scale": {"domain": ["u", "d"], "range": ["#008000", "#ff0000"]}, "legend": null}}}
  ]
},
{
  "width": 568, "height": 79,
  "title": "AO 0.724800",
  "resolve": {"scale": {"y": "independent"}, "axis": {"y": "independent"}},
  "layer": [
    {"data": {"name": "yr"}, "mark": {"type": "rule", "color": "#000000", "strokeDash": [3, 3], "strokeWidth": 1},
     "encoding": {"x": {"field": "t", "type": "temporal", "scale": {"type": "utc", "domain": [{"year": 2006, "month": 4, "date": 16, "utc": true}, {"year": 2017, "month": 3, "date": 5, "utc": true}]},
                        "axis": {"orient": "bottom", "title": null, "values": [1145750400000, 1184457600000, 1223164800000, 1261872000000, 1300579200000, 1339286400000, 1377993600000, 1416700800000], "labelExpr": "utcFormat(datum.value, '%-d %b %Y')", "labelAlign": "left", "labelFlush": false, "labelFontSize": 9.5, "tickSize": 4, "labelPadding": 1}}}},
    {"data": {"values": [{"lv": 0}, {"lv": 100}]}, "mark": {"type": "rule", "color": "#c0c0c0", "strokeDash": [3, 3], "strokeWidth": 1},
     "encoding": {"y": {"field": "lv", "type": "quantitative", "scale": {"domain": [-113, 233], "nice": false, "zero": false}, "axis": null}}},
    {"data": {"name": "wk"}, "mark": {"type": "bar", "width": 2.2},
     "encoding": {"x": {"field": "t", "type": "temporal", "scale": {"type": "utc", "domain": [{"year": 2006, "month": 4, "date": 16, "utc": true}, {"year": 2017, "month": 3, "date": 5, "utc": true}]},
                        "axis": {"orient": "bottom", "title": null, "values": [1145750400000, 1184457600000, 1223164800000, 1261872000000, 1300579200000, 1339286400000, 1377993600000, 1416700800000], "labelExpr": "utcFormat(datum.value, '%-d %b %Y')", "labelAlign": "left", "labelFlush": false, "labelFontSize": 9.5, "tickSize": 4, "labelPadding": 1}},
                  "y": {"field": "ao", "type": "quantitative", "scale": {"domain": [-0.696773, 1.453474], "nice": false},
                        "axis": {"orient": "right", "values": [-0.696773, 0, 1.453474], "labelExpr": "datum.value == 0 ? '0.00' : (datum.value > 0 ? '1.453474' : '-0.696773')", "labelFlush": true, "labelFontSize": 9, "title": null}},
                  "y2": {"datum": 0},
                  "color": {"field": "aod", "type": "nominal", "scale": {"domain": ["u", "d"], "range": ["#008000", "#ff0000"]}, "legend": null}}},
    {"data": {"name": "wk"}, "mark": {"type": "line", "color": "#007000", "strokeWidth": 1.8},
     "encoding": {"x": {"field": "t", "type": "temporal", "scale": {"type": "utc", "domain": [{"year": 2006, "month": 4, "date": 16, "utc": true}, {"year": 2017, "month": 3, "date": 5, "utc": true}]},
                        "axis": {"orient": "bottom", "title": null, "values": [1145750400000, 1184457600000, 1223164800000, 1261872000000, 1300579200000, 1339286400000, 1377993600000, 1416700800000], "labelExpr": "utcFormat(datum.value, '%-d %b %Y')", "labelAlign": "left", "labelFlush": false, "labelFontSize": 9.5, "tickSize": 4, "labelPadding": 1}},
                  "y": {"field": "osc", "type": "quantitative", "scale": {"domain": [-113, 233], "nice": false, "zero": false},
                        "axis": {"orient": "right", "values": [0, 100], "labelExpr": "datum.value == 0 ? '0.00' : '100'", "ticks": false, "labelPadding": 6, "title": null}}}}
  ]
}
]
}
